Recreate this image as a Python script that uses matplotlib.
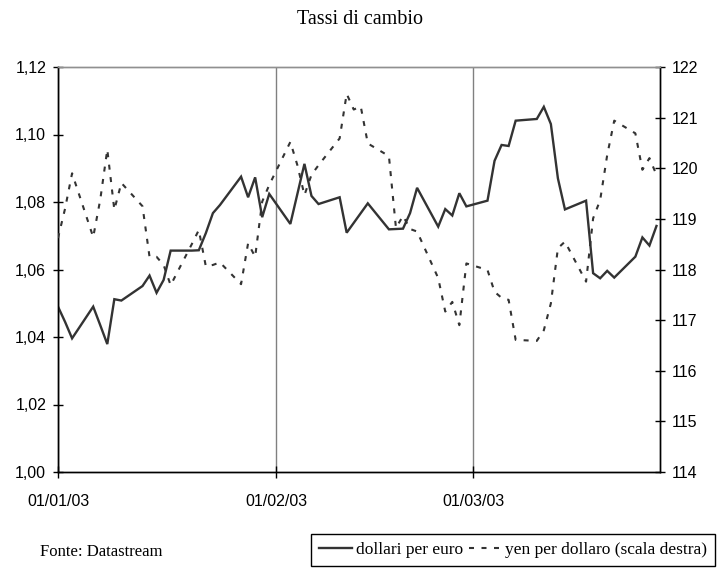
import matplotlib
matplotlib.use("Agg")
import matplotlib.pyplot as plt
import matplotlib.dates as mdates
from matplotlib.lines import Line2D
from matplotlib.ticker import FuncFormatter, FixedLocator
import numpy as np
import datetime as dt

# ---- data ----
dates = ["2003-01-01", "2003-01-02", "2003-01-03", "2003-01-06", "2003-01-07", "2003-01-08",
         "2003-01-09", "2003-01-10", "2003-01-13", "2003-01-14", "2003-01-15", "2003-01-16",
         "2003-01-17", "2003-01-20", "2003-01-21", "2003-01-22", "2003-01-23", "2003-01-24",
         "2003-01-27", "2003-01-28", "2003-01-29", "2003-01-30", "2003-01-31",
         "2003-02-03", "2003-02-04", "2003-02-05", "2003-02-06", "2003-02-07",
         "2003-02-10", "2003-02-11", "2003-02-12", "2003-02-13", "2003-02-14",
         "2003-02-17", "2003-02-18", "2003-02-19", "2003-02-20", "2003-02-21",
         "2003-02-24", "2003-02-25", "2003-02-26", "2003-02-27", "2003-02-28",
         "2003-03-03", "2003-03-04", "2003-03-05", "2003-03-06", "2003-03-07",
         "2003-03-10", "2003-03-11", "2003-03-12", "2003-03-13", "2003-03-14",
         "2003-03-17", "2003-03-18", "2003-03-19", "2003-03-20", "2003-03-21",
         "2003-03-24", "2003-03-25", "2003-03-26", "2003-03-27"]

dollari_per_euro = [1.0490, 1.0445, 1.0396, 1.0490, 1.0435, 1.0379,
                    1.0512, 1.0508, 1.0551, 1.0582, 1.0531, 1.0569,
                    1.0656, 1.0656, 1.0657, 1.0708, 1.0767, 1.0791,
                    1.0875, 1.0814, 1.0873, 1.0755, 1.0824,
                    1.0735, 1.0824, 1.0913, 1.0818, 1.0794,
                    1.0814, 1.0709, 1.0738, 1.0767, 1.0796,
                    1.0719, 1.0720, 1.0721, 1.0767, 1.0842,
                    1.0727, 1.0779, 1.0760, 1.0826, 1.0787,
                    1.0804, 1.0922, 1.0969, 1.0966, 1.1041,
                    1.1046, 1.1082, 1.1031, 1.0870, 1.0778,
                    1.0804, 1.0589, 1.0574, 1.0596, 1.0576,
                    1.0638, 1.0695, 1.0671, 1.0729]

yen_per_dollaro = [118.62, 119.20, 119.90, 118.64, 119.38, 120.37,
                   119.18, 119.71, 119.25, 118.25, 118.25, 118.09,
                   117.69, 118.50, 118.78, 118.06, 118.09, 118.14,
                   117.71, 118.52, 118.25, 119.34, 119.67,
                   120.52, 120.06, 119.47, 119.87, 120.06,
                   120.59, 121.47, 121.16, 121.22, 120.49,
                   120.24, 118.82, 119.06, 118.80, 118.75,
                   117.83, 117.17, 117.36, 116.90, 118.12,
                   117.99, 117.56, 117.44, 117.40, 116.61,
                   116.59, 116.80, 117.33, 118.42, 118.55,
                   117.76, 119.01, 119.37, 120.26, 120.94,
                   120.69, 119.97, 120.20, 119.87]

x_tick_dates = ["2003-01-01", "2003-02-01", "2003-03-01"]
x_tick_labels = ["01/01/03", "01/02/03", "01/03/03"]
left_ticks = [1.00, 1.02, 1.04, 1.06, 1.08, 1.10, 1.12]
right_ticks = [114, 115, 116, 117, 118, 119, 120, 121, 122]

title = "Tassi di cambio"
source = "Fonte: Datastream"
label_1 = "dollari per euro"
label_2 = "yen per dollaro (scala destra)"

# ---- plot ----
x = [dt.datetime.strptime(d, "%Y-%m-%d") for d in dates]
xt = [dt.datetime.strptime(d, "%Y-%m-%d") for d in x_tick_dates]

sans = ["Liberation Sans Narrow", "Liberation Sans", "DejaVu Sans"]
serif = ["Liberation Serif", "DejaVu Serif"]
line_color = "#333333"
dash = (0, (2.4, 3.6))

fig = plt.figure(figsize=(7.2, 5.75), dpi=100)
ax = fig.add_axes([58 / 720, 1 - 472 / 575, (660 - 58) / 720, (472 - 67) / 575])
ax2 = ax.twinx()

ax.plot(x, dollari_per_euro, color=line_color, lw=1.7, solid_joinstyle="miter", zorder=3)
ax2.plot(x, yen_per_dollaro, color=line_color, lw=1.5, linestyle=dash, zorder=3)

ax.set_xlim(dt.datetime(2003, 1, 1), dt.datetime(2003, 3, 27, 12))
ax.set_ylim(1.00, 1.12)
ax2.set_ylim(114, 122)

ax.xaxis.set_major_locator(FixedLocator(mdates.date2num(xt)))
ax.set_xticklabels(x_tick_labels)
ax.set_yticks(left_ticks)
ax.yaxis.set_major_formatter(FuncFormatter(lambda v, p: f"{v:.2f}".replace(".", ",")))
ax2.set_yticks(right_ticks)
ax2.yaxis.set_major_formatter(FuncFormatter(lambda v, p: f"{v:.0f}"))

ax.grid(axis="x", color="#808080", lw=1.0)
ax.set_axisbelow(True)

for a in (ax, ax2):
    for s in a.spines.values():
        s.set_linewidth(1.0)
        s.set_color("black")
    a.spines["top"].set_color("#909090")

ax.tick_params(axis="x", direction="inout", length=8, width=1.0, pad=12, labelsize=11.5)
ax.tick_params(axis="y", direction="inout", length=7, width=1.0, pad=5, labelsize=11.5)
ax2.tick_params(axis="y", direction="inout", length=7, width=1.0, pad=5, labelsize=11.5)
for lab in ax.get_xticklabels() + ax.get_yticklabels() + ax2.get_yticklabels():
    lab.set_fontfamily(sans)
for lab in ax.get_xticklabels():
    lab.set_horizontalalignment("center")

fig.text(0.5, 1 - 20 / 575, title, ha="center", va="center", fontsize=14.5, family=serif)
fig.text(40 / 720, 1 - 552 / 575, source, ha="left", va="center", fontsize=12, family=serif)

handles = [Line2D([], [], color=line_color, lw=1.7),
           Line2D([], [], color=line_color, lw=1.5, linestyle=dash)]
leg = fig.legend(handles, [label_1, label_2], loc="lower right",
                 bbox_to_anchor=(715 / 720, 9 / 575), ncol=2, frameon=True,
                 fancybox=False, edgecolor="black", framealpha=1,
                 handlelength=1.9, handletextpad=0.2, columnspacing=0.35,
                 borderpad=0.45, borderaxespad=0,
                 prop={"family": serif, "size": 12.5})
leg.get_frame().set_linewidth(1.0)

fig.savefig("out.png", dpi=100)
